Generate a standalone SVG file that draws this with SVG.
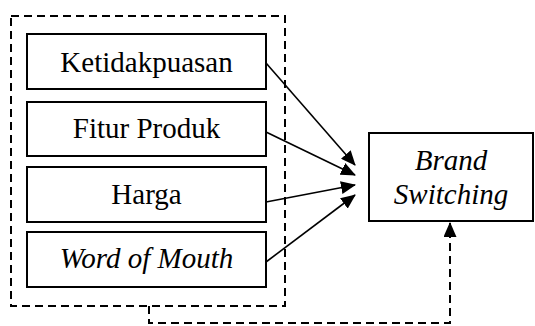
<svg xmlns="http://www.w3.org/2000/svg" width="535" height="326" viewBox="0 0 535 326">
<defs>
<style>
.box{fill:#fff;stroke:#000;stroke-width:2}
.t{font-family:'Liberation Serif','Times New Roman',serif;font-size:29px;fill:#000;text-anchor:middle}
.i{font-style:italic}
.c{fill:none;stroke:#000;stroke-width:1.6}
.d{fill:none;stroke:#000;stroke-width:2;stroke-dasharray:8,5}
</style>
<marker id="ah" markerUnits="userSpaceOnUse" markerWidth="15" markerHeight="13" refX="14" refY="6.5" orient="auto">
<path d="M0,0 L15,6.5 L0,13 Z" fill="#000"/>
</marker>
</defs>
<g id="group">
<rect class="d" x="11" y="16" width="274" height="290"/>
</g>
<g id="n1"><rect class="box" x="27" y="34" width="239" height="55"/><text class="t" x="146.5" y="72">Ketidakpuasan</text></g>
<g id="n2"><rect class="box" x="27" y="102" width="239" height="54"/><text class="t" x="146.5" y="138">Fitur Produk</text></g>
<g id="n3"><rect class="box" x="27" y="167" width="239" height="55"/><text class="t" x="146.5" y="204">Harga</text></g>
<g id="n4"><rect class="box" x="27" y="232" width="239" height="55"/><text class="t i" x="146.5" y="268">Word of Mouth</text></g>
<g id="n5"><rect class="box" x="369" y="133" width="164" height="88"/><text class="t i" x="451" y="170">Brand</text><text class="t i" x="451" y="204">Switching</text></g>
<g id="connectors">
<line class="c" x1="266" y1="63" x2="355" y2="165" marker-end="url(#ah)"/>
<line class="c" x1="266" y1="132" x2="355" y2="175" marker-end="url(#ah)"/>
<line class="c" x1="266" y1="202" x2="355" y2="185" marker-end="url(#ah)"/>
<line class="c" x1="266" y1="262" x2="355" y2="195" marker-end="url(#ah)"/>
<polyline class="d" points="149,306 149,323 450,323 450,223" marker-end="url(#ah)"/>
</g>
</svg>
